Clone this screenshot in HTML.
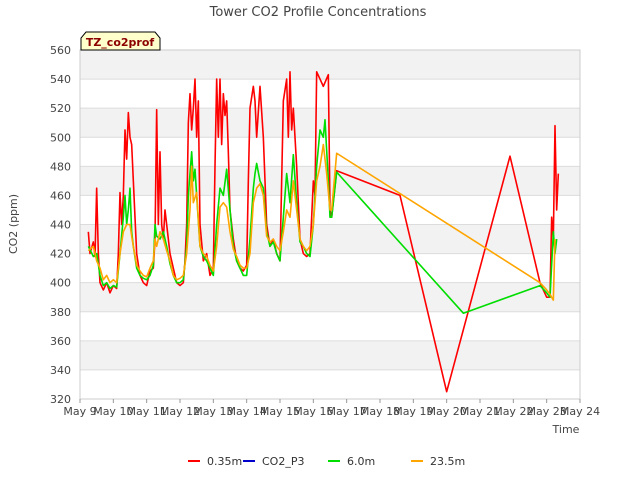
<!DOCTYPE html>
<html><head><meta charset="utf-8"><style>
body{margin:0;background:#fff;font-family:"Liberation Sans","DejaVu Sans",sans-serif}
svg text{font-family:"DejaVu Sans","Liberation Sans",sans-serif}
</style></head><body>
<svg id="chart" width="640" height="480" xmlns="http://www.w3.org/2000/svg">
<text x="318" y="16" text-anchor="middle" font-size="13" fill="#444">Tower CO2 Profile Concentrations</text>
<g id="bands"></g><g id="grid"></g>
<rect x="80" y="50" width="500" height="349" fill="none" stroke="#ccc"/>
<g id="series"></g><g id="axes"></g>
<text transform="translate(17,224) rotate(-90)" text-anchor="middle" font-size="11" fill="#444">CO2 (ppm)</text>
<text x="566" y="433" text-anchor="middle" font-size="11" fill="#444">Time</text>
<g><path d="M81,50 L81,38 L86,32 L155,32 L160,38 L160,50 Z" fill="#ffffcc" stroke="#000"/><text x="120" y="46" text-anchor="middle" font-size="11" font-weight="bold" fill="#8b0000">TZ_co2prof</text></g>
<g id="legend"></g>
</svg>
<script>
const yTicks=[320,340,360,380,400,420,440,460,480,500,520,540,560];
const xTickLabels=["May 9","May 10","May 11","May 12","May 13","May 14","May 15","May 16","May 17","May 18","May 19","May 20","May 21","May 22","May 23","May 24"];
const seriesNames=["0.35m","CO2_P3","6.0m","23.5m"];
const seriesColors=["#ff0000","#0000cc","#00dd00","#ffa500"];
const redDays=[9.25,9.3,9.4,9.45,9.5,9.55,9.6,9.7,9.8,9.9,10.0,10.1,10.15,10.2,10.25,10.3,10.35,10.4,10.45,10.5,10.55,10.6,10.7,10.8,10.9,11.0,11.1,11.2,11.25,11.3,11.35,11.4,11.45,11.5,11.55,11.6,11.7,11.8,11.9,12.0,12.1,12.15,12.2,12.25,12.3,12.35,12.4,12.45,12.5,12.55,12.6,12.7,12.8,12.9,13.0,13.05,13.1,13.15,13.2,13.25,13.3,13.35,13.4,13.45,13.5,13.6,13.7,13.8,13.9,14.0,14.05,14.1,14.2,14.25,14.3,14.4,14.5,14.6,14.7,14.8,14.9,15.0,15.05,15.1,15.2,15.25,15.3,15.35,15.4,15.5,15.6,15.7,15.8,15.9,16.0,16.05,16.1,16.2,16.3,16.45,16.5,16.55,16.7,18.6,20.0,21.9,22.8,23.0,23.1,23.15,23.2,23.25,23.3,23.35];
const redVals=[435,420,428,418,465,420,400,395,400,393,398,396,420,462,440,460,505,485,517,500,495,470,420,405,400,398,408,410,430,519,440,490,440,430,450,440,420,410,400,398,400,415,440,510,530,505,520,540,500,525,440,415,420,405,410,480,540,500,540,495,530,515,525,490,450,430,415,410,408,412,470,520,535,525,500,535,500,440,425,430,420,415,470,525,540,500,545,505,520,480,430,420,418,420,470,460,545,540,535,543,450,445,477,460,325,487,400,390,390,445,430,508,450,475];
const greenDays=[9.25,9.4,9.5,9.6,9.7,9.8,9.9,10.0,10.1,10.2,10.3,10.35,10.4,10.45,10.5,10.55,10.6,10.7,10.8,10.9,11.0,11.1,11.2,11.25,11.3,11.4,11.5,11.6,11.7,11.8,11.9,12.0,12.1,12.2,12.25,12.35,12.4,12.45,12.5,12.6,12.7,12.8,12.9,13.0,13.1,13.2,13.3,13.4,13.5,13.6,13.7,13.8,13.9,14.0,14.1,14.2,14.25,14.3,14.4,14.5,14.6,14.7,14.8,14.9,15.0,15.1,15.2,15.3,15.4,15.5,15.6,15.7,15.8,15.9,16.0,16.1,16.2,16.3,16.35,16.45,16.5,16.55,16.7,20.5,22.8,23.0,23.1,23.2,23.25,23.3];
const greenVals=[425,418,420,405,398,400,396,398,397,420,445,460,440,450,465,435,425,410,405,403,402,405,412,440,432,430,435,425,413,405,400,400,402,425,460,490,470,478,460,425,418,415,410,405,440,465,460,478,450,425,415,410,405,405,430,465,475,482,470,465,435,425,428,420,415,445,475,455,488,455,428,425,420,418,440,480,505,500,512,470,445,445,476,379,398,393,390,435,420,430];
const orangeDays=[9.25,9.4,9.5,9.6,9.7,9.8,9.9,10.0,10.1,10.2,10.3,10.4,10.5,10.55,10.6,10.7,10.8,10.9,11.0,11.1,11.2,11.25,11.3,11.4,11.5,11.6,11.7,11.8,11.9,12.0,12.1,12.2,12.3,12.35,12.4,12.5,12.6,12.7,12.8,12.9,13.0,13.1,13.2,13.3,13.4,13.5,13.6,13.7,13.8,13.9,14.0,14.1,14.2,14.3,14.4,14.5,14.6,14.7,14.8,14.9,15.0,15.1,15.2,15.3,15.4,15.5,15.6,15.7,15.8,15.9,16.0,16.1,16.2,16.3,16.4,16.5,16.55,16.7,22.8,23.0,23.1,23.2,23.25];
const orangeVals=[422,425,415,410,402,405,400,402,400,420,435,440,440,432,425,412,408,405,404,410,415,430,425,435,430,422,415,405,402,403,405,420,450,480,455,462,425,420,418,412,408,425,452,455,452,435,423,418,412,410,410,420,455,465,468,460,432,428,430,425,422,435,450,445,470,450,430,425,422,425,440,470,480,495,475,450,450,489,400,395,392,388,430];

const X0=80,X1=580,Y0=399,Y1=50;
const xs=d=>X0+(d-9)*(X1-X0)/15;
const ys=v=>Y0-(v-320)*(Y0-Y1)/240;
const NS="http://www.w3.org/2000/svg";
function mk(tag,attrs,parent){const e=document.createElementNS(NS,tag);for(const k in attrs)e.setAttribute(k,attrs[k]);parent.appendChild(e);return e;}
const bands=document.getElementById('bands'),grid=document.getElementById('grid'),axes=document.getElementById('axes');
for(let i=0;i<yTicks.length-1;i++){
  if(i%2===1){const r=mk('rect',{x:X0,y:ys(yTicks[i+1]),width:X1-X0,height:ys(yTicks[i])-ys(yTicks[i+1]),fill:'#f2f2f2'},bands);
  
  }
}
yTicks.forEach(v=>{
  const l=mk('line',{x1:X0,x2:X1,y1:ys(v),y2:ys(v),stroke:'#dcdcdc'},grid);
  
  
  const t=mk('text',{x:X0-9,y:ys(v)+4,'text-anchor':'end','font-size':'11',fill:'#444'},axes);t.textContent=v;
  
  
});
xTickLabels.forEach((s,i)=>{
  const x=xs(9+i);
  mk('line',{x1:x,x2:x,y1:Y0,y2:Y0+4,stroke:'#999'},axes);
  const t=mk('text',{x:x,y:Y0+16,'text-anchor':'middle','font-size':'11',fill:'#444'},axes);t.textContent=s;
  
  
});
const ser=document.getElementById('series');
function line(days,vals,color,name){
  if(!days.length)return;
  const p=mk('polyline',{points:days.map((d,i)=>xs(d)+','+ys(vals[i])).join(' '),fill:'none',stroke:color,'stroke-width':'1.6','stroke-linejoin':'round'},ser);
  
  
}
line(redDays,redVals,seriesColors[0],'series-0-35m');
line(greenDays,greenVals,seriesColors[2],'series-6-0m');
line(orangeDays,orangeVals,seriesColors[3],'series-23-5m');
const leg=document.getElementById('legend');
const legX=[188,243,328,411];
seriesNames.forEach((n,i)=>{
  const g=mk('g',{},leg);
  
  
  mk('line',{x1:legX[i],x2:legX[i]+12,y1:461,y2:461,stroke:seriesColors[i],'stroke-width':'2'},g);
  const t=mk('text',{x:legX[i]+19,y:465,'font-size':'11',fill:'#333'},g);t.textContent=n;
});
</script>
</body></html>
